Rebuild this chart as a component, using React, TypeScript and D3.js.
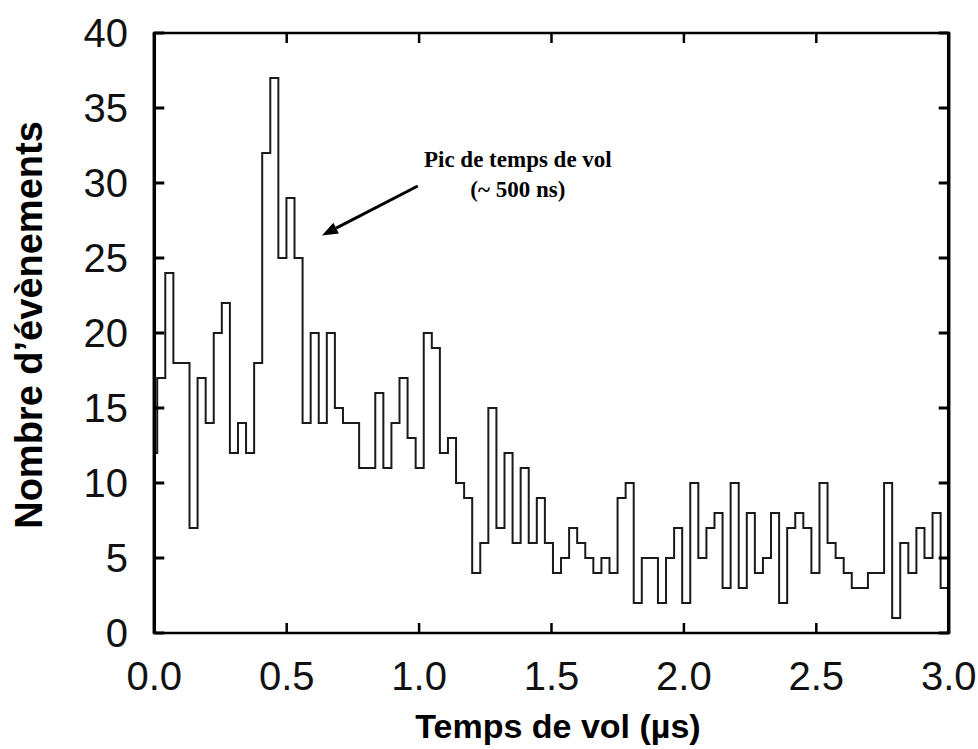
import React from "react";
import * as d3 from "d3";

// Histogram counts (events per bin), left to right
const counts: number[] = [
  12, 17, 24, 18, 18, 7, 17, 14, 20, 22, 12, 14, 12, 18, 32, 37, 25, 29, 25, 14, 20, 14, 20, 15, 14, 14,
  11, 11, 16, 11, 14, 17, 13, 11, 20, 19, 12, 13, 10, 9, 4, 6, 15, 7, 12, 6, 11, 6, 9, 6,
  4, 5, 7, 6, 5, 4, 5, 4, 9, 10, 2, 5, 5, 2, 5, 7, 2, 10, 5, 7, 8, 3, 10, 3,
  8, 4, 5, 8, 2, 7, 8, 7, 4, 10, 6, 5, 4, 3, 3, 4, 4, 10, 1, 6, 4, 7, 5, 8, 3,
];
const binStart = -0.0195; // µs, first bin partly hidden below 0
const binWidth = 0.0305; // µs

const xTicks: number[] = [0, 0.5, 1.0, 1.5, 2.0, 2.5, 3.0];
const yTicks: number[] = [0, 5, 10, 15, 20, 25, 30, 35, 40];
const xDomain: [number, number] = [0, 3];
const yDomain: [number, number] = [0, 40];

const xTitle = "Temps de vol (µs)";
const yTitle = "Nombre d’évènements";
const noteLines: string[] = ["Pic de temps de vol", "(~ 500 ns)"];
const notePos = { x: 1.373, y1: 31.05, y2: 29.05 };
const arrowFrom = { x: 0.995, y: 29.8 };
const arrowTo = { x: 0.633, y: 26.5 };

const W = 978;
const H = 749;
const L = 154.3;
const R = 948.7;
const T = 33;
const B = 633;

const sans = "'Liberation Sans', Arial, Helvetica, sans-serif";
const serif = "'Liberation Serif', 'Times New Roman', serif";

export default function App() {
  const x = d3.scaleLinear().domain(xDomain).range([L, R]);
  const y = d3.scaleLinear().domain(yDomain).range([B, T]);

  const pts: [number, number][] = [];
  counts.forEach((c, i) => {
    const a = Math.max(xDomain[0], binStart + i * binWidth);
    const b = Math.min(xDomain[1], binStart + (i + 1) * binWidth);
    pts.push([a, c], [b, c]);
  });
  const line = d3
    .line<[number, number]>()
    .x((d) => x(d[0]))
    .y((d) => y(d[1]));
  const path = line(pts) || "";

  // arrow geometry
  const ax0 = x(arrowFrom.x);
  const ay0 = y(arrowFrom.y);
  const ax1 = x(arrowTo.x);
  const ay1 = y(arrowTo.y);
  const ang = Math.atan2(ay1 - ay0, ax1 - ax0);
  const headLen = 16;
  const headW = 6;
  const bx = ax1 - headLen * Math.cos(ang);
  const by = ay1 - headLen * Math.sin(ang);
  const px = -Math.sin(ang) * headW;
  const py = Math.cos(ang) * headW;
  const head = `M${ax1},${ay1}L${bx + px},${by + py}L${bx - px},${by - py}Z`;

  const tickLen = 10;

  return (
    <div style={{ position: "absolute", left: 0, top: 0, width: W, height: H, background: "#fff" }}>
      <svg width={W} height={H} viewBox={`0 0 ${W} ${H}`}>
        <rect x={0} y={0} width={W} height={H} fill="#fff" />
        {/* histogram */}
        <path d={path} fill="none" stroke="#1a1a1a" strokeWidth={2} strokeLinejoin="miter" />

        {/* ticks */}
        {yTicks.map((t) => (
          <g key={"y" + t}>
            <line x1={L} x2={L + tickLen} y1={y(t)} y2={y(t)} stroke="#000" strokeWidth={3} />
            <line x1={R} x2={R - tickLen} y1={y(t)} y2={y(t)} stroke="#000" strokeWidth={3} />
            <text
              x={128}
              y={y(t)}
              dy="0.35em"
              textAnchor="end"
              fontFamily={sans}
              fontSize={40}
              fill="#111"
            >
              {t}
            </text>
          </g>
        ))}
        {xTicks.map((t) => (
          <g key={"x" + t}>
            <line x1={x(t)} x2={x(t)} y1={B} y2={B - tickLen} stroke="#000" strokeWidth={2.5} />
            <line x1={x(t)} x2={x(t)} y1={T} y2={T + tickLen} stroke="#000" strokeWidth={2.5} />
            <text x={x(t)} y={690} textAnchor="middle" fontFamily={sans} fontSize={40} fill="#111">
              {t.toFixed(1)}
            </text>
          </g>
        ))}

        {/* frame */}
        <line x1={L} x2={L} y1={T} y2={B} stroke="#000" strokeWidth={3.5} />
        <line x1={R} x2={R} y1={T} y2={B} stroke="#000" strokeWidth={3.5} />
        <line x1={L - 1.5} x2={R + 1.5} y1={T} y2={T} stroke="#000" strokeWidth={2.5} />
        <line x1={L - 1.5} x2={R + 1.5} y1={B} y2={B} stroke="#000" strokeWidth={2.5} />

        {/* axis titles */}
        <text
          x={558}
          y={738}
          textAnchor="middle"
          fontFamily={sans}
          fontWeight="bold"
          fontSize={34}
          fill="#000"
        >
          {xTitle}
        </text>
        <text
          transform={`translate(42,325) rotate(-90)`}
          textAnchor="middle"
          fontFamily={sans}
          fontWeight="bold"
          fontSize={38}
          fill="#000"
        >
          {yTitle}
        </text>

        {/* annotation */}
        <line x1={ax0} y1={ay0} x2={bx} y2={by} stroke="#000" strokeWidth={3} />
        <path d={head} fill="#000" />
        <text
          x={x(notePos.x)}
          y={y(notePos.y1)}
          textAnchor="middle"
          fontFamily={serif}
          fontWeight="bold"
          fontSize={23}
          fill="#000"
        >
          {noteLines[0]}
        </text>
        <text
          x={x(notePos.x)}
          y={y(notePos.y2)}
          textAnchor="middle"
          fontFamily={serif}
          fontWeight="bold"
          fontSize={23}
          fill="#000"
        >
          {noteLines[1]}
        </text>
      </svg>
    </div>
  );
}
